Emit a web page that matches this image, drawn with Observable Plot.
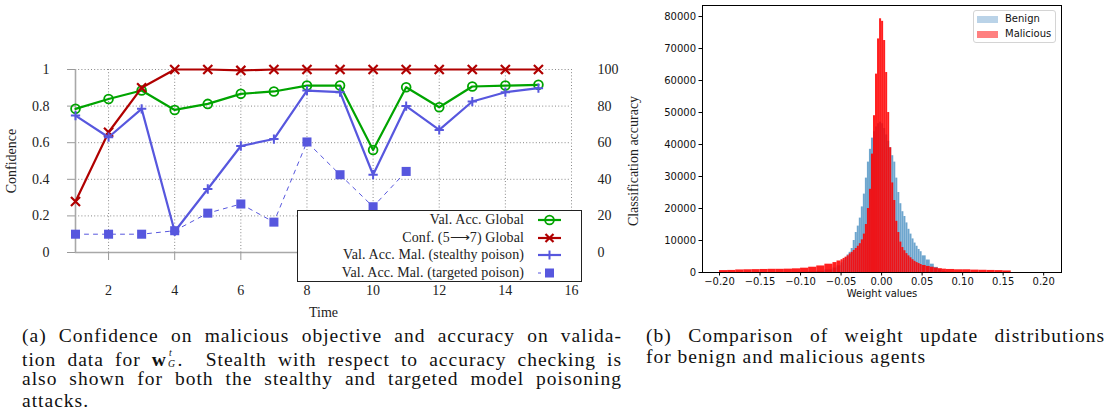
<!DOCTYPE html>
<html><head><meta charset="utf-8">
<script src="https://cdn.jsdelivr.net/npm/d3@7"></script>
<script src="https://cdn.jsdelivr.net/npm/@observablehq/plot@0.6"></script>
<style>
body{margin:0;background:#fff;}
#root{position:relative;width:1108px;height:414px;overflow:hidden;background:#fff;}
#left{position:absolute;left:0;top:0;}
#right{position:absolute;left:645px;top:0;}
.leg1{position:absolute;left:297px;top:210px;width:283px;height:70px;border:1px solid #222;background:#fff;font-family:"Liberation Serif",serif;font-size:14px;letter-spacing:0.1px;color:#222;z-index:2;}
.leg1 .row{position:absolute;left:0;width:283px;height:16px;}
.leg1 .lab{position:absolute;right:57px;top:0;line-height:16px;white-space:nowrap;}
.leg1 svg{position:absolute;left:240px;top:0;}
.leg2{position:absolute;left:973px;top:10px;width:81px;height:31px;border:1px solid #d4d4d4;border-radius:3px;background:#fff;font-family:"DejaVu Sans",sans-serif;font-size:10px;color:#111;z-index:2;}
.leg2 .p{position:absolute;left:3px;width:21px;height:7px;}
.leg2 .t{position:absolute;left:31px;line-height:12px;white-space:nowrap;}
.cap{position:absolute;font-family:"Liberation Serif",serif;font-size:19.5px;color:#111;letter-spacing:1px;}
.cap .ln{height:21.7px;line-height:21.7px;text-align:justify;text-align-last:justify;white-space:nowrap;}
.cap .ln.last{text-align:left;text-align-last:left;}
.wg{display:inline-block;position:relative;width:0.55em;height:1em;}
.wg span{position:absolute;left:1px;font-size:0.5em;font-style:italic;line-height:1.107;letter-spacing:0;}
</style>
</head><body>
<div id="root">
  <div id="left"></div>
  <div id="right"></div>
  <div class="leg1" id="leg1"></div>
  <div class="leg2" id="leg2"></div>
  <div class="cap" style="left:22px;top:324.5px;width:600px;">
    <div class="ln">(a) Confidence on malicious objective and accuracy on valida-</div>
    <div class="ln">tion data for <b>w</b><span class="wg"><span style="top:2.1px;left:2px">t</span><span style="top:13px">G</span></span>.&nbsp; Stealth with respect to accuracy checking is</div>
    <div class="ln">also shown for both the stealthy and targeted model poisoning</div>
    <div class="ln last">attacks.</div>
  </div>
  <div class="cap" style="left:646px;top:324.5px;width:459px;">
    <div class="ln">(b) Comparison of weight update distributions</div>
    <div class="ln last">for benign and malicious agents</div>
  </div>
</div>
<script>
// ---------- Left chart data ----------
const times = [1,2,3,4,5,6,7,8,9,10,11,12,13,14,15];
const valAccGlobal = [0.785,0.839,0.885,0.779,0.812,0.867,0.880,0.912,0.912,0.560,0.903,0.794,0.907,0.912,0.916];
const confGlobal = [0.279,0.657,0.900,1.0,1.0,0.995,1.0,1.0,1.0,1.0,1.0,1.0,1.0,1.0,1.0];
const valAccMalStealthy = [0.748,0.630,0.785,0.115,0.347,0.582,0.620,0.885,0.876,0.425,0.800,0.670,0.825,0.876,0.898];
const targetedTimes = [1,2,3,4,5,6,7,8,9,10,11];
const valAccMalTargeted = [0.100,0.100,0.100,0.119,0.215,0.265,0.166,0.604,0.425,0.250,0.443];
const xTicks = [2,4,6,8,10,12,14,16];
const yTicks = [0,0.2,0.4,0.6,0.8,1];
const yTickLabels = ["0","0.2","0.4","0.6","0.8","1"];
const yTickLabelsRight = ["0","20","40","60","80","100"];
const xLabel = "Time", yLabel = "Confidence", yLabelRight = "Classification accuracy";
const seriesNames = ["Val. Acc. Global","Conf. (5\u27F67) Global","Val. Acc. Mal. (stealthy poison)","Val. Acc. Mal. (targeted poison)"];

// ---------- Right chart data (histogram) ----------
const binEdges = [-0.20,-0.19,-0.18,-0.17,-0.16,-0.15,-0.14,-0.13,-0.12,-0.11,-0.10,-0.09,-0.08,-0.07,-0.06,-0.055,-0.05,
 -0.0475,-0.045,-0.0425,-0.04,-0.0375,-0.035,-0.0325,-0.03,-0.0275,-0.025,-0.0225,-0.02,-0.0175,-0.015,-0.0125,-0.01,-0.0075,-0.005,-0.0025,0,
 0.0025,0.005,0.0075,0.01,0.0125,0.015,0.0175,0.02,0.0225,0.025,0.0275,0.03,0.0325,0.035,0.0375,0.04,0.0425,0.045,0.0475,0.05,
 0.055,0.06,0.065,0.07,0.075,0.08,0.09,0.10,0.11,0.12,0.13,0.14,0.15,0.16,0.17,0.18,0.19,0.20];
const benignCounts = [0,0,0,0,0,0,0,0,0,0,100,200,400,800,1400,2100,
 3000,3800,4600,5500,6300,7500,10000,12500,14500,17000,20500,24500,29500,34500,38500,42000,44000,45500,46500,47000,
 46500,45000,43000,41000,39000,36500,34500,29500,25000,21500,19000,17500,15500,13500,12000,10500,9200,8200,7200,6500,
 5200,3900,2600,1600,900,300,100,0,0,0,0,0,0,0,0,0,0,0];
const maliciousCounts = [600,650,800,850,900,950,1000,1000,1050,1150,1350,1650,2050,2600,3100,3600,
 4000,4400,4800,5200,5800,6300,6900,7500,8200,9000,10200,12000,15000,20000,26000,37000,49000,62000,73000,79300,
 78500,72500,62500,50000,39000,28000,22500,16000,12500,9500,7800,6800,5900,5200,4600,4000,3500,3100,2800,2500,
 2200,1900,1650,1400,1200,1050,950,850,850,750,700,650,600,500,0,0,0,0];
const histXTicks = [-0.20,-0.15,-0.10,-0.05,0,0.05,0.10,0.15,0.20];
const histXTickLabels = ["\u22120.20","\u22120.15","\u22120.10","\u22120.05","0.00","0.05","0.10","0.15","0.20"];
const histYTicks = [0,10000,20000,30000,40000,50000,60000,70000,80000];
const histNames = ["Benign","Malicious"];
const histXLabel = "Weight values";

// ---------- colours ----------
const cGreen = "#00a400", cRed = "#b00000", cBlue = "#5757de";
const cBenign = "#6ea6ce", cBenignLeg = "#bad3e8", cMal = "#ff0000", cMalLeg = "#ff8080";

const rows = (xs, ys) => ys.map((v, i) => ({t: xs[i], v}));
const rG = rows(times, valAccGlobal), rR = rows(times, confGlobal), rB = rows(times, valAccMalStealthy), rT = rows(targetedTimes, valAccMalTargeted);

const serif = "Liberation Serif, serif";
const left = Plot.plot({
  width: 645, height: 330,
  marginLeft: 75, marginRight: 74, marginTop: 69, marginBottom: 78,
  x: {domain: [1, 16]},
  y: {domain: [0, 1]},
  style: {fontFamily: serif, fontSize: "14px", color: "#222", background: "transparent", overflow: "visible"},
  marks: [
    Plot.gridY(yTicks.slice(1), {stroke: "#888", strokeOpacity: 1, strokeDasharray: "1,2.2"}),
    Plot.gridX(xTicks, {stroke: "#888", strokeOpacity: 1, strokeDasharray: "1,2.2"}),
    Plot.ruleY([0], {stroke: "#a8a8a8", strokeWidth: 1.6}),
    Plot.ruleX([1], {stroke: "#a8a8a8", strokeWidth: 1.6}),
    Plot.axisY(yTicks, {anchor: "left", tickSize: 8, tickPadding: 18, stroke: "#999", fill: "#222",
      tickFormat: d => yTickLabels[yTicks.indexOf(d)],
      label: yLabel, labelAnchor: "center", labelArrow: "none", labelOffset: 69}),
    Plot.axisY(yTicks, {anchor: "right", tickSize: 0, tickPadding: 26, fill: "#222",
      tickFormat: d => yTickLabelsRight[yTicks.indexOf(d)],
      label: yLabelRight, labelAnchor: "center", labelArrow: "none", labelOffset: 66}),
    Plot.axisX(xTicks, {anchor: "bottom", tickSize: 8, tickPadding: 25, stroke: "#999", fill: "#222", label: null}),
    Plot.text([xLabel], {text: d => d, frameAnchor: "bottom", dy: 64, fill: "#222"}),
    Plot.line(rG, {x: "t", y: "v", stroke: cGreen, strokeWidth: 2.2}),
    Plot.dot(rG, {x: "t", y: "v", symbol: "circle", r: 4.4, stroke: cGreen, strokeWidth: 1.8, fill: "none"}),
    Plot.line(rR, {x: "t", y: "v", stroke: cRed, strokeWidth: 2.2}),
    Plot.dot(rR, {x: "t", y: "v", symbol: "times", r: 4.2, stroke: cRed, strokeWidth: 2.2}),
    Plot.line(rB, {x: "t", y: "v", stroke: cBlue, strokeWidth: 2.2}),
    Plot.dot(rB, {x: "t", y: "v", symbol: "plus", r: 3.1, stroke: cBlue, strokeWidth: 2}),
    Plot.line(rT, {x: "t", y: "v", stroke: cBlue, strokeWidth: 1, strokeDasharray: "4,5"}),
    Plot.dot(rT, {x: "t", y: "v", symbol: "square", r: 5.1, fill: cBlue, stroke: "none"})
  ]
});
document.getElementById("left").appendChild(left);

// left legend
const legSyms = [
  `<line x1="0" y1="8" x2="23" y2="8" stroke="${cGreen}" stroke-width="2.2"/><circle cx="11.5" cy="8" r="4.4" fill="none" stroke="${cGreen}" stroke-width="1.8"/>`,
  `<line x1="0" y1="8" x2="23" y2="8" stroke="${cRed}" stroke-width="2.2"/><path d="M7.5 4L15.5 12M15.5 4L7.5 12" stroke="${cRed}" stroke-width="2.2"/>`,
  `<line x1="0" y1="8" x2="23" y2="8" stroke="${cBlue}" stroke-width="2.2"/><path d="M11.5 3.5V12.5M7 8H16" stroke="${cBlue}" stroke-width="2"/>`,
  `<line x1="0" y1="8" x2="3" y2="8" stroke="${cBlue}" stroke-width="1"/><rect x="7" y="3.5" width="9" height="9" fill="${cBlue}"/>`
];
const rowTops = [1, 18.5, 36, 53.5];
const leg1 = document.getElementById("leg1");
seriesNames.forEach((n, i) => {
  const d = document.createElement("div");
  d.className = "row"; d.style.top = rowTops[i] + "px";
  d.innerHTML = `<span class="lab">${n}</span><svg width="24" height="16">${legSyms[i]}</svg>`;
  leg1.appendChild(d);
});

// ---------- histogram ----------
const bins = (counts) => counts.map((c, i) => ({x1: binEdges[i], x2: binEdges[i + 1], c}));
const benRows = bins(benignCounts), malRows = bins(maliciousCounts);
const right = Plot.plot({
  width: 463, height: 310,
  marginLeft: 57, marginRight: 47, marginTop: 5, marginBottom: 38,
  x: {domain: [-0.221, 0.222]},
  y: {domain: [0, 83450]},
  style: {fontFamily: "DejaVu Sans, sans-serif", fontSize: "10px", color: "#111", background: "transparent", overflow: "visible"},
  marks: [
    Plot.rectY(benRows, {x1: "x1", x2: "x2", y: "c", fill: cBenign}),
    Plot.rectY(malRows, {x1: "x1", x2: "x2", y: "c", fill: cMal, fillOpacity: 0.88}),
    Plot.frame({stroke: "#000", strokeWidth: 1}),
    Plot.axisY(histYTicks, {tickSize: 3.5, tickPadding: 3, stroke: "#000", fill: "#111", tickFormat: d3.format("d"), label: null}),
    Plot.axisX(histXTicks, {tickSize: 3.5, tickPadding: 2, stroke: "#000", fill: "#111",
      tickFormat: d => histXTickLabels[histXTicks.indexOf(d)], label: null}),
    Plot.text([histXLabel], {text: d => d, frameAnchor: "bottom", dy: 24, fill: "#111"})
  ]
});
document.getElementById("right").appendChild(right);

const leg2 = document.getElementById("leg2");
[[cBenignLeg, 4.5, 2], [cMalLeg, 19.5, 17]].forEach(([col, pt, tt], i) => {
  const p = document.createElement("div"); p.className = "p"; p.style.background = col; p.style.top = pt + "px";
  const t = document.createElement("div"); t.className = "t"; t.style.top = tt + "px"; t.textContent = histNames[i];
  leg2.appendChild(p); leg2.appendChild(t);
});
</script>
</body></html>
